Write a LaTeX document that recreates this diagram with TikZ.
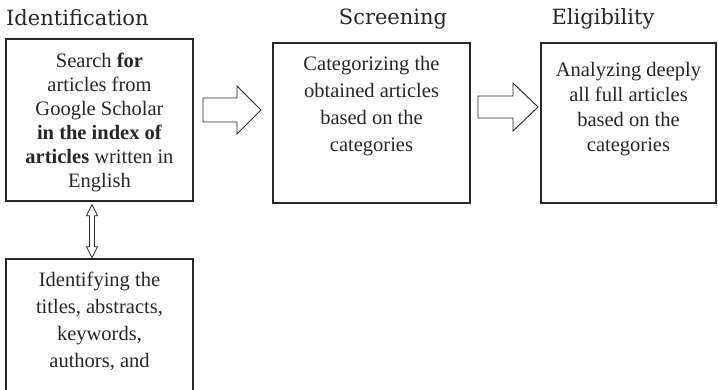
\documentclass[tikz,border=0pt]{standalone}
\usepackage{fontspec}
\setmainfont{Liberation Serif}
\newfontfamily\prsheadfont{DejaVu Serif}
\usepackage{tikz}
\usetikzlibrary{positioning}
\colorlet{prsink}{black!85}
\tikzset{
  prsstage/.style={
    draw=prsink,
    line width=1.3pt,
    inner sep=0pt
  },
  prstext/.style={
    text=prsink,
    align=center,
    inner sep=0pt,
    font=\fontsize{20.5}{24}\selectfont
  },
  prstitle/.style={text=prsink,inner sep=0pt,font=\prsheadfont\fontsize{21}{25}\selectfont},
  prsflow/.style={draw=prsink,fill=white,line width=0.9pt,line join=miter},
  prslink/.style={draw=prsink,fill=white,line width=0.8pt,line join=miter}
}
\begin{document}
\begin{tikzpicture}[x=1pt,y=-1pt]
  \useasboundingbox (0,0) rectangle (718,389);

  % stage headings
  \node[prstitle,anchor=base west] (tid) at (6,25) {Identification};
  \node[prstitle,anchor=base] (tscr) at (393,24) {Screening};
  \node[prstitle,anchor=base] (telg) at (603,24) {Eligibility};

  % identification
  \node[prsstage,minimum width=187pt,minimum height=162pt] (idbox) at (99.5,120) {};
  \node[prstext,anchor=north,below=15pt of idbox.north] (idtxt)
    {Search \textbf{for}\\articles from\\Google Scholar\\\textbf{in the index of}\\
     \textbf{articles} written in\\English};
  \node[prsstage,minimum width=187pt,minimum height=141pt] (lowbox) at (99.5,329.5) {};
  \node[prstext,font=\fontsize{20.5}{27}\selectfont,anchor=north,below=14pt of lowbox.north]
    (lowtxt) {Identifying the\\titles, abstracts,\\keywords,\\authors, and};

  % screening
  \node[prsstage,minimum width=197pt,minimum height=160pt] (scrbox) at (371.5,123) {};
  \node[prstext,font=\fontsize{20.5}{27}\selectfont,anchor=north,below=14pt of scrbox.north]
    (scrtxt) {Categorizing the\\obtained articles\\based on the\\categories};

  % eligibility
  \node[prsstage,minimum width=175pt,minimum height=160pt] (elgbox) at (628.5,123) {};
  \node[prstext,font=\fontsize{20.5}{25}\selectfont,anchor=north,below=20pt of elgbox.north]
    (elgtxt) {Analyzing deeply\\all full articles\\based on the\\categories};

  % block arrows between the stages
  \coordinate (a0) at ([xshift=-7.5pt,yshift=-3pt]idbox.south);
  \coordinate (a1) at (203,110);
  \coordinate (a2) at (478,107);
  \draw[prslink] (a0) -- ++(5.5,11) -- ++(-3,0) -- ++(0,31) -- ++(3,0) -- ++(-5.5,11)
    -- ++(-5.5,-11) -- ++(3,0) -- ++(0,-31) -- ++(-3,0) -- cycle;
  \draw[prsflow] (a1) ++(0,-12) -- ++(34,0) -- ++(0,-12) -- ++(24,24) -- ++(-24,24)
    -- ++(0,-12) -- ++(-34,0) -- cycle;
  \draw[prsflow] (a2) ++(0,-11) -- ++(35,0) -- ++(0,-13) -- ++(25,24) -- ++(-25,24)
    -- ++(0,-13) -- ++(-35,0) -- cycle;
\end{tikzpicture}
\end{document}
